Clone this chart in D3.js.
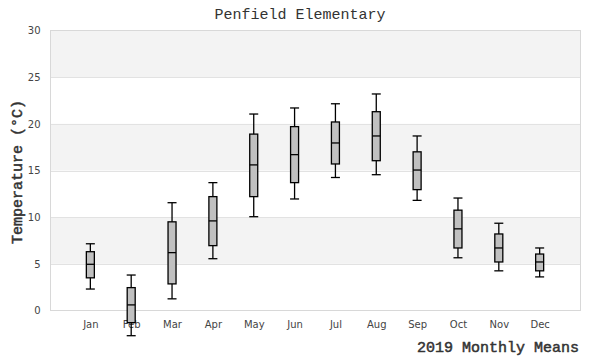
<!DOCTYPE html>
<html>
<head>
<meta charset="utf-8">
<script src="https://cdn.jsdelivr.net/npm/d3@7"></script>
<style>
  body { margin: 0; background: #fff; }
  svg { display: block; }
</style>
</head>
<body>
<svg id="chart" width="600" height="360"></svg>
<script>
const months = ["Jan","Feb","Mar","Apr","May","Jun","Jul","Aug","Sep","Oct","Nov","Dec"];
const whiskerLow  = [2.3, -2.7, 1.25, 5.55, 10.05, 11.95, 14.25, 14.55, 11.8, 5.65, 4.25, 3.6];
const q1          = [3.5, -1.3, 2.85, 6.95, 12.2, 13.7, 15.7, 16.05, 12.95, 6.7, 5.2, 4.25];
const median      = [4.95, 0.6, 6.2, 9.6, 15.6, 16.7, 17.95, 18.7, 15.05, 8.75, 6.7, 5.2];
const q3          = [6.3, 2.45, 9.5, 12.2, 18.9, 19.7, 20.2, 21.3, 17.0, 10.75, 8.2, 6.05];
const whiskerHigh = [7.15, 3.8, 11.55, 13.7, 21.05, 21.7, 22.15, 23.2, 18.7, 12.05, 9.35, 6.7];
const yTicks = [0, 5, 10, 15, 20, 25, 30];
const title = "Penfield Elementary";
const yTitle = "Temperature (°C)";
const xTitle = "2019 Monthly Means";

const data = months.map((m, i) => ({
  month: m, idx: i + 1,
  lo: whiskerLow[i], q1: q1[i], med: median[i], q3: q3[i], hi: whiskerHigh[i]
}));

const svg = d3.select("#chart");
const L = 50.5, R = 580.5, T = 30.5, B = 310.5;
const x = d3.scaleLinear().domain([0, 13]).range([L - 1, R]);
const y = d3.scaleLinear().domain([0, 30]).range([B, T]);

// bands
const bands = [[5,10],[15,20],[25,30]];
svg.append("g").selectAll("rect").data(bands).join("rect")
  .attr("x", L).attr("width", R - L)
  .attr("y", d => y(d[1])).attr("height", d => y(d[0]) - y(d[1]))
  .attr("fill", "#f3f3f3");

// grid lines
svg.append("g").selectAll("line").data(yTicks.filter(t => t > 0 && t < 30)).join("line")
  .attr("x1", L).attr("x2", R)
  .attr("y1", d => Math.round(y(d)) + 0.5).attr("y2", d => Math.round(y(d)) + 0.5)
  .attr("stroke", "#e2e2e2").attr("stroke-width", 1);

// border
svg.append("rect").attr("x", L).attr("y", T).attr("width", R - L).attr("height", B - T)
  .attr("fill", "none").attr("stroke", "#d8d8d8").attr("stroke-width", 1);

// y axis labels
const yAxis = d3.axisLeft(y).tickValues(yTicks).tickSize(0).tickPadding(10);
const gy = svg.append("g").attr("transform", `translate(${L},0)`).call(yAxis);
gy.select(".domain").remove();
gy.selectAll("text").attr("fill", "#444").style("font-family", "DejaVu Sans").style("font-size", "10px");

// x axis labels
const xAxis = d3.axisBottom(x).tickValues(data.map(d => d.idx)).tickFormat(d => months[d - 1]).tickSize(0).tickPadding(10);
const gx = svg.append("g").attr("transform", `translate(0,${B})`).call(xAxis);
gx.select(".domain").remove();
gx.selectAll("text").attr("fill", "#444").style("font-family", "DejaVu Sans").style("font-size", "10px");

// boxes
const bw = 8, cw = 9;
const g = svg.append("g").selectAll("g").data(data).join("g");
g.append("line")
  .attr("x1", d => x(d.idx)).attr("x2", d => x(d.idx))
  .attr("y1", d => y(d.hi)).attr("y2", d => y(d.lo))
  .attr("stroke", "#000").attr("stroke-width", 1.3);
g.append("line")
  .attr("x1", d => x(d.idx) - cw / 2).attr("x2", d => x(d.idx) + cw / 2)
  .attr("y1", d => y(d.hi)).attr("y2", d => y(d.hi))
  .attr("stroke", "#000").attr("stroke-width", 1.3);
g.append("line")
  .attr("x1", d => x(d.idx) - cw / 2).attr("x2", d => x(d.idx) + cw / 2)
  .attr("y1", d => y(d.lo)).attr("y2", d => y(d.lo))
  .attr("stroke", "#000").attr("stroke-width", 1.3);
g.append("rect")
  .attr("x", d => x(d.idx) - bw / 2).attr("width", bw)
  .attr("y", d => y(d.q3)).attr("height", d => y(d.q1) - y(d.q3))
  .attr("fill", "#c0c0c0").attr("stroke", "#000").attr("stroke-width", 1.3);
g.append("line")
  .attr("x1", d => x(d.idx) - bw / 2).attr("x2", d => x(d.idx) + bw / 2)
  .attr("y1", d => y(d.med)).attr("y2", d => y(d.med))
  .attr("stroke", "#000").attr("stroke-width", 1.3);

// titles
svg.append("text").attr("x", 300).attr("y", 19).attr("text-anchor", "middle")
  .style("font-family", "Liberation Mono").style("font-size", "15px").attr("fill", "#333")
  .text(title);
svg.append("text").attr("transform", "translate(22,172) rotate(-90)").attr("text-anchor", "middle")
  .style("font-family", "Liberation Mono").style("font-size", "15px")
  .attr("fill", "#333").attr("stroke", "#333").attr("stroke-width", 0.5)
  .text(yTitle);
svg.append("text").attr("x", 579).attr("y", 352).attr("text-anchor", "end")
  .style("font-family", "Liberation Mono").style("font-size", "15px")
  .attr("fill", "#333").attr("stroke", "#333").attr("stroke-width", 0.5)
  .text(xTitle);
</script>
</body>
</html>
